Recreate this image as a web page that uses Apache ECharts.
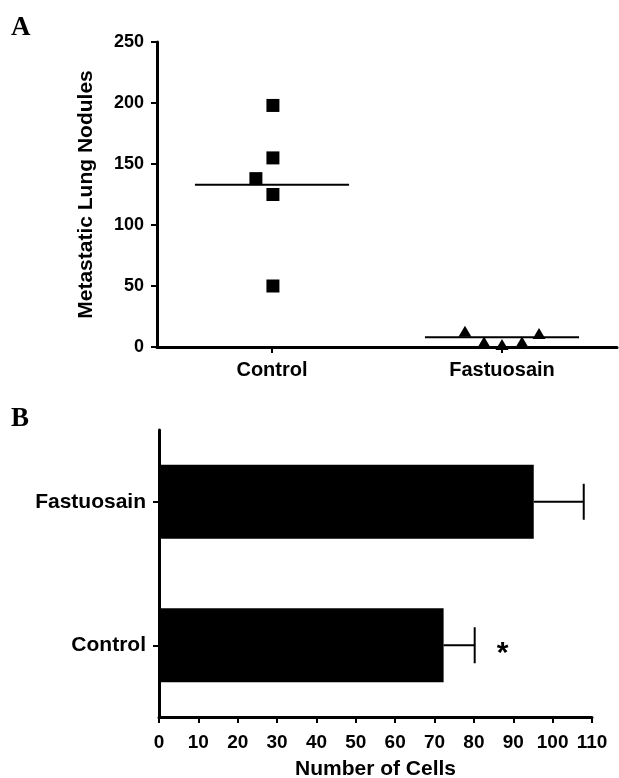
<!DOCTYPE html>
<html>
<head>
<meta charset="utf-8">
<script src="https://cdn.jsdelivr.net/npm/echarts@6/dist/echarts.min.js"></script>
<style>
  html, body { margin: 0; padding: 0; background: #fff; }
  #main { width: 619px; height: 778px; }
</style>
</head>
<body>
<div id="main"></div>
<script>
  // panel A: individual counts, x is group position (0.5 = Control, 1.5 = Fastuosain)
  var groupNames = ['Control', 'Fastuosain'];
  var controlX = [0.504, 0.504, 0.43, 0.504, 0.504];
  var controlY = [198, 155, 138, 125, 50];
  var fastX = [1.339, 1.422, 1.5, 1.587, 1.661];
  var fastY = [13, 4, 2, 4, 11];
  var groupMeans = [133, 8];
  var meanHalfWidth = 0.335;

  // panel B: bar means and upper error
  var barCategories = ['Control', 'Fastuosain'];
  var barMeans = [72.3, 95.2];
  var barUpper = [80.2, 107.9];
  var barMarks = ['*', ''];

  var font = '"Liberation Sans", Arial, sans-serif';

  function pairs(xs, ys) {
    return xs.map(function (x, i) { return [x, ys[i]]; });
  }

  function bold(size) {
    return { color: '#000', fontFamily: font, fontWeight: 'bold', fontSize: size };
  }

  var chart = echarts.init(document.getElementById('main'));

  var axisLineStyle = { color: '#000', width: 3 };
  var tickStyle = { color: '#000', width: 2 };

  chart.setOption({
    animation: false,
    backgroundColor: '#fff',
    graphic: [
      { type: 'text', left: 11, top: 15, style: { text: 'A', font: 'bold 27px "Liberation Serif", serif', fill: '#000' } },
      { type: 'text', left: 11, top: 406, style: { text: 'B', font: 'bold 27px "Liberation Serif", serif', fill: '#000' } }
    ],
    grid: [
      { left: 157, top: 42, width: 460, height: 305, outerBoundsMode: 'none' },
      { left: 159, top: 430, width: 433, height: 287, outerBoundsMode: 'none' }
    ],
    xAxis: [
      {
        gridIndex: 0,
        type: 'value',
        min: 0,
        max: 2,
        splitLine: { show: false },
        axisLine: { show: true, lineStyle: axisLineStyle },
        axisTick: { show: true, length: 6, lineStyle: tickStyle, customValues: [0.5, 1.5] },
        axisLabel: Object.assign({
          margin: 13,
          customValues: [0.5, 1.5],
          formatter: function (v) { return groupNames[Math.round(v - 0.5)]; }
        }, bold(20))
      },
      {
        gridIndex: 1,
        type: 'value',
        min: 0,
        max: 110,
        interval: 10,
        splitLine: { show: false },
        axisLine: { show: true, lineStyle: axisLineStyle },
        axisTick: { show: true, length: 6, lineStyle: tickStyle },
        axisLabel: Object.assign({ margin: 16 }, bold(19)),
        name: 'Number of Cells',
        nameLocation: 'middle',
        nameGap: 42,
        nameTextStyle: bold(21)
      }
    ],
    yAxis: [
      {
        gridIndex: 0,
        type: 'value',
        min: 0,
        max: 250,
        interval: 50,
        splitLine: { show: false },
        axisLine: { show: true, lineStyle: axisLineStyle },
        axisTick: { show: true, length: 6, lineStyle: tickStyle },
        axisLabel: Object.assign({ margin: 13 }, bold(18)),
        name: 'Metastatic Lung Nodules',
        nameLocation: 'middle',
        nameGap: 60,
        nameRotate: 90,
        nameTextStyle: bold(21)
      },
      {
        gridIndex: 1,
        type: 'category',
        data: barCategories,
        splitLine: { show: false },
        axisLine: { show: true, lineStyle: axisLineStyle },
        axisTick: { show: true, length: 6, alignWithLabel: true, lineStyle: tickStyle },
        axisLabel: Object.assign({ margin: 13 }, bold(21))
      }
    ],
    series: [
      {
        type: 'scatter',
        xAxisIndex: 0, yAxisIndex: 0,
        symbol: 'rect',
        symbolSize: 13,
        itemStyle: { color: '#000', opacity: 1 },
        data: pairs(controlX, controlY)
      },
      {
        type: 'scatter',
        xAxisIndex: 0, yAxisIndex: 0,
        symbol: 'triangle',
        symbolSize: [13, 11],
        itemStyle: { color: '#000', opacity: 1 },
        data: pairs(fastX, fastY)
      },
      {
        type: 'line',
        xAxisIndex: 0, yAxisIndex: 0,
        symbol: 'none',
        lineStyle: { color: '#000', width: 2 },
        data: [[0.5 - meanHalfWidth, groupMeans[0]], [0.5 + meanHalfWidth, groupMeans[0]]]
      },
      {
        type: 'line',
        xAxisIndex: 0, yAxisIndex: 0,
        symbol: 'none',
        lineStyle: { color: '#000', width: 2 },
        data: [[1.5 - meanHalfWidth, groupMeans[1]], [1.5 + meanHalfWidth, groupMeans[1]]]
      },
      {
        type: 'bar',
        xAxisIndex: 1, yAxisIndex: 1,
        barWidth: 74,
        itemStyle: { color: '#000' },
        data: barMeans
      },
      {
        type: 'custom',
        xAxisIndex: 1, yAxisIndex: 1,
        encode: { x: [0, 2], y: 1 },
        data: barMeans.map(function (m, i) { return [m, i, barUpper[i]]; }),
        renderItem: function (params, api) {
          var i = api.value(1);
          var start = api.coord([api.value(0), i]);
          var end = api.coord([api.value(2), i]);
          var children = [
            { type: 'line', shape: { x1: start[0], y1: start[1], x2: end[0], y2: end[1] }, style: { stroke: '#000', lineWidth: 2 } },
            { type: 'line', shape: { x1: end[0], y1: end[1] - 18, x2: end[0], y2: end[1] + 18 }, style: { stroke: '#000', lineWidth: 2 } }
          ];
          if (barMarks[i]) {
            children.push({
              type: 'text',
              style: {
                text: barMarks[i], x: end[0] + 28, y: end[1] + 8,
                font: 'bold 30px ' + font, fill: '#000',
                textAlign: 'center', textVerticalAlign: 'middle'
              }
            });
          }
          return { type: 'group', children: children };
        }
      }
    ]
  });
</script>
</body>
</html>
